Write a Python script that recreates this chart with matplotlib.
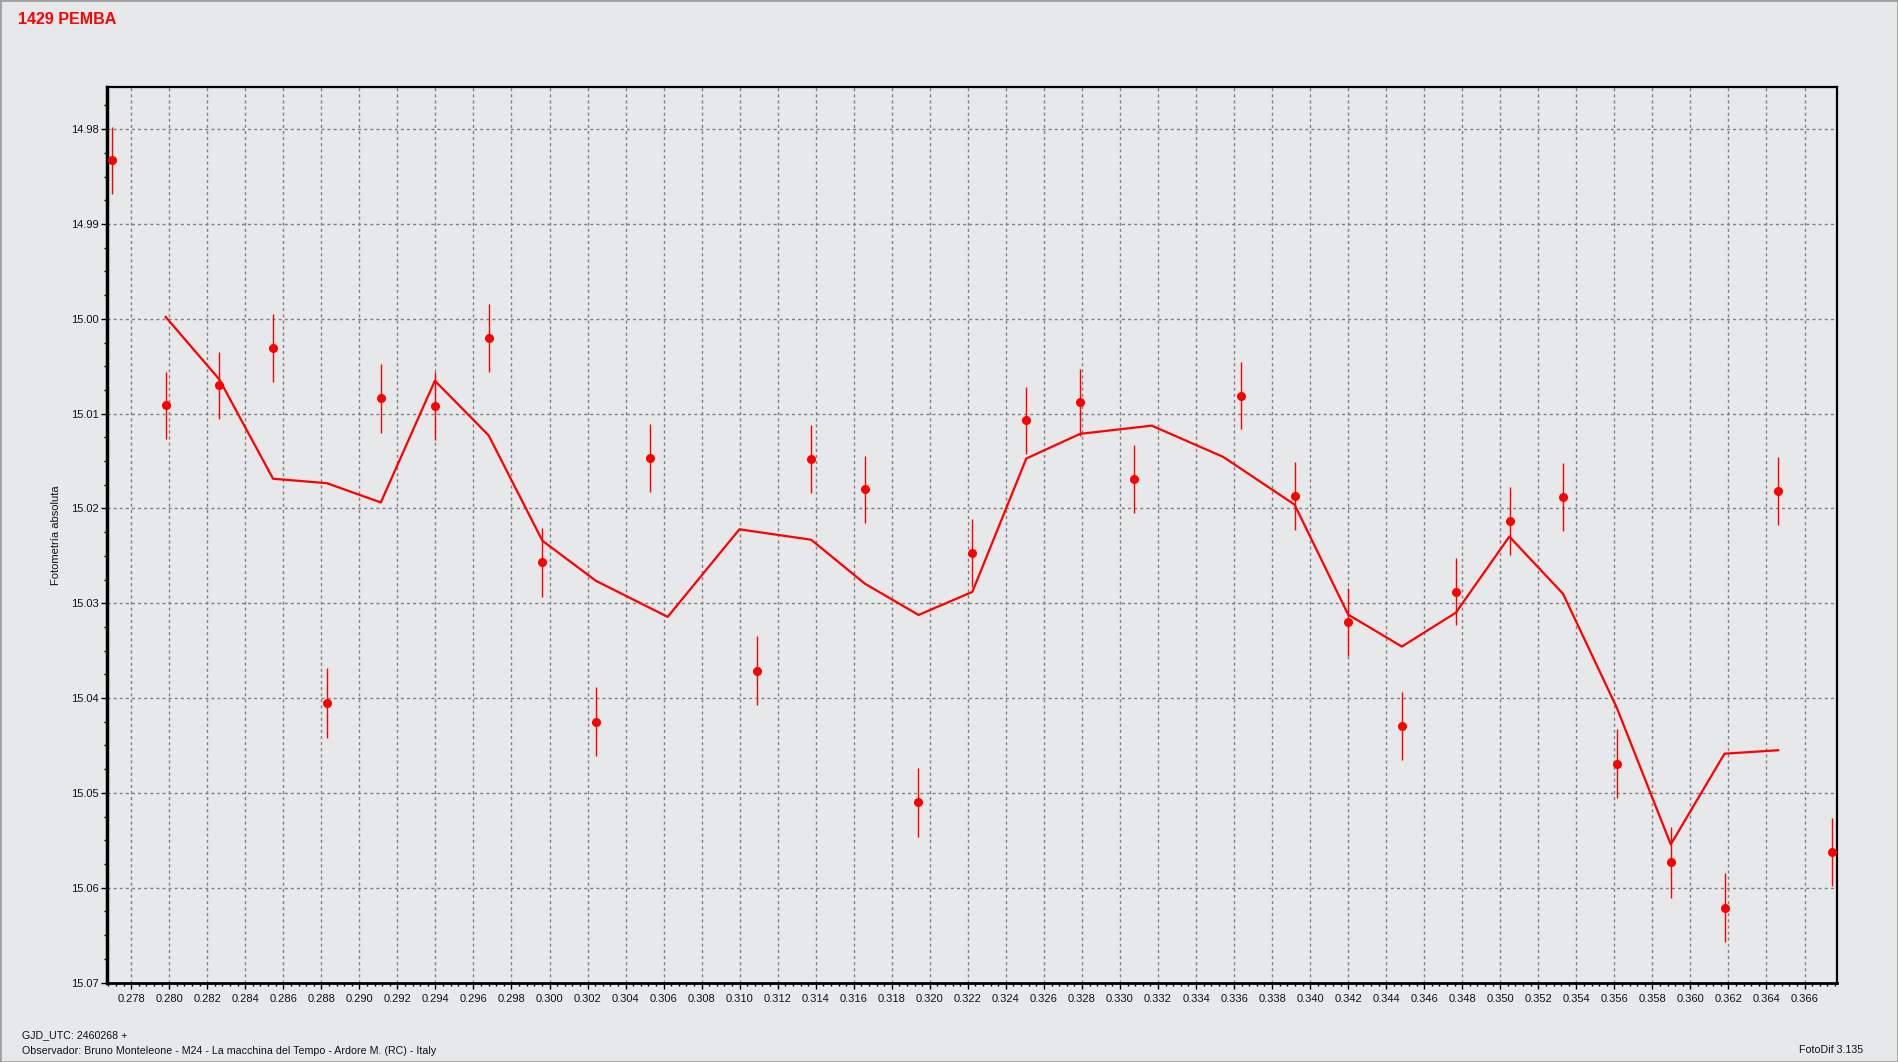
import matplotlib
matplotlib.use("Agg")
import matplotlib.pyplot as plt
import matplotlib.ticker as mticker
import numpy as np
import pandas as pd
from matplotlib.patches import Rectangle

# fractional day (GJD_UTC - 2460268) of each measurement
jd_frac = [0.27699, 0.27982, 0.28263, 0.28546, 0.28829, 0.29112, 0.29397, 0.29682,
           0.29961, 0.30244, 0.30527, 0.31093, 0.31376, 0.31659, 0.31940, 0.32223,
           0.32508, 0.32791, 0.33072, 0.33638, 0.33919, 0.34198, 0.34483, 0.34766,
           0.35049, 0.35328, 0.35613, 0.35896, 0.36181, 0.36460, 0.36743]
# absolute magnitude
mag = [14.9833, 15.0091, 15.0070, 15.0031, 15.0405, 15.0084, 15.0092, 15.0020,
       15.0257, 15.0425, 15.0147, 15.0371, 15.0148, 15.0180, 15.0510, 15.0247,
       15.0107, 15.0088, 15.0169, 15.0081, 15.0187, 15.0320, 15.0429, 15.0288,
       15.0213, 15.0188, 15.0469, 15.0573, 15.0621, 15.0182, 15.0562]
mag_err = [0.00349, 0.00354, 0.00354, 0.00356, 0.00368, 0.00361, 0.00360, 0.00358,
           0.00360, 0.00363, 0.00356, 0.00363, 0.00358, 0.00358, 0.00363, 0.00355,
           0.00354, 0.00352, 0.00358, 0.00353, 0.00358, 0.00361, 0.00358, 0.00353,
           0.00360, 0.00358, 0.00363, 0.00374, 0.00363, 0.00358, 0.00358]

TITLE = "1429 PEMBA"
Y_LABEL = "Fotometría absoluta"
JD_TEXT = "GJD_UTC: 2460268 +"
OBS_TEXT = "Observador: Bruno Monteleone - M24 - La macchina del Tempo - Ardore M. (RC) - Italy"
SOFT_TEXT = "FotoDif 3.135"

BG = "#e7e8ea"
RED = "#ff0000"
TXT = "#101018"

plt.rcParams["font.family"] = ["Liberation Sans", "DejaVu Sans"]
plt.rcParams["lines.scale_dashes"] = False

fig = plt.figure(figsize=(18.98, 10.62), dpi=100, facecolor=BG)
ax = fig.add_axes([0.05637, 0.07439, 0.91149, 0.84369], facecolor=BG)

# 3-point running mean drawn as the trend line
df = pd.DataFrame({"x": jd_frac, "y": mag})
smooth = df.rolling(3, center=True).mean().dropna()

ax.errorbar(jd_frac, mag, yerr=mag_err, fmt="o", color=RED, ms=5.5,
            elinewidth=1.0, capsize=0, zorder=4)
ax.plot(smooth["x"], smooth["y"], color=RED, lw=1.6, zorder=3)

ax.set_xlim(0.276727, 0.367708)
ax.set_ylim(15.07005, 14.97555)

ax.xaxis.set_major_locator(mticker.MultipleLocator(0.002))
ax.xaxis.set_minor_locator(mticker.MultipleLocator(0.0004))
ax.xaxis.set_major_formatter(mticker.FormatStrFormatter("%.3f"))
ax.yaxis.set_major_locator(mticker.FixedLocator(np.round(np.arange(14.98, 15.075, 0.01), 2)))
ax.yaxis.set_minor_locator(mticker.MultipleLocator(0.0025))
ax.yaxis.set_major_formatter(mticker.FormatStrFormatter("%.2f"))

ax.grid(True, which="major", color="#808080", lw=1.0, ls=(0, (2.2, 2.2)))
ax.tick_params(axis="both", which="major", labelsize=8, colors="#000000",
               labelcolor=TXT, length=4, width=1, direction="out")
ax.tick_params(axis="both", which="minor", length=2.5, width=1, colors="#000000")
ax.tick_params(axis="x", which="major", pad=4)
ax.tick_params(axis="y", which="major", pad=2)

for side, lw in (("left", 2.5), ("top", 1.6), ("right", 1.6), ("bottom", 2.0)):
    ax.spines[side].set_color("#000000")
    ax.spines[side].set_linewidth(lw)

ax.set_ylabel(Y_LABEL, fontsize=8, color=TXT, labelpad=7)

fig.text(0.0095, 0.9816, TITLE, color=RED, fontsize=11.5, fontweight="bold",
         ha="left", va="center")
fig.text(0.0116, 0.0254, JD_TEXT, color=TXT, fontsize=7.7, ha="left", va="center")
fig.text(0.0116, 0.0104, OBS_TEXT, color=TXT, fontsize=7.7, ha="left", va="center")
fig.text(0.9816, 0.0113, SOFT_TEXT, color=TXT, fontsize=7.7, ha="right", va="center")

fig.patches.append(Rectangle((0, 0), 1, 1, transform=fig.transFigure, fill=False,
                             edgecolor="#a0a0a0", lw=2.0))

fig.savefig("out.png", dpi=100, facecolor=BG)
